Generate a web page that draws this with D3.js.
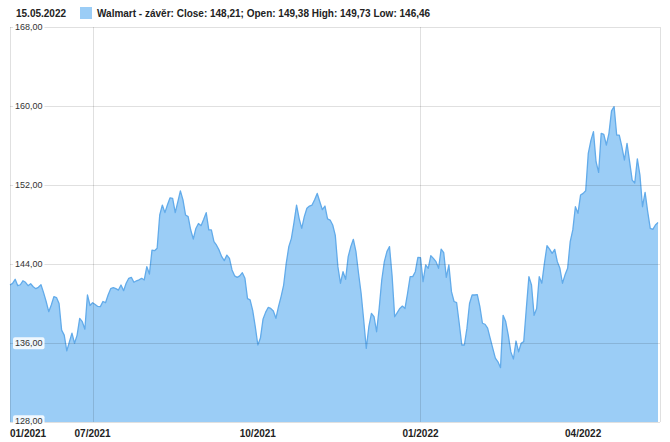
<!DOCTYPE html>
<html>
<head>
<meta charset="utf-8">
<script src="https://cdn.jsdelivr.net/npm/d3@7"></script>
<style>
  html, body { margin: 0; padding: 0; background: #fff; }
  svg { display: block; font-family: "Liberation Sans", Arial, sans-serif; }
</style>
</head>
<body>
<svg id="chart" width="670" height="442"></svg>
<script>
// ---- data (one value per trading day) ----
const closes = [
  141.87, 142.04, 142.45, 141.8, 141.9, 142.3, 142.15, 141.8, 142.0, 141.7,
  141.5, 141.64, 141.9, 141.1, 140.2, 139.17, 139.85, 140.7, 140.6, 140.0,
  137.3, 136.8, 135.2, 136.1, 137.0, 135.97, 136.8, 138.5, 138.16, 137.4,
  140.86, 139.8, 140.08, 139.9, 139.7, 139.68, 140.2, 140.08, 140.86, 141.5,
  141.6, 141.5, 141.36, 141.87, 141.3, 142.05, 142.55, 142.65, 142.15, 142.3,
  142.4, 142.55, 142.38, 143.73, 142.98, 145.4, 145.35, 145.6, 148.96, 149.97,
  149.2, 150.0, 150.7, 150.65, 149.2, 150.3, 151.4, 150.5, 148.96, 148.8,
  147.44, 146.53, 147.6, 148.1, 147.88, 148.5, 149.2, 147.45, 147.45, 146.26,
  145.9, 145.4, 144.74, 144.34, 144.9, 144.57, 143.4, 142.8, 142.65, 142.8,
  143.12, 142.55, 140.5, 140.36, 139.3, 137.65, 135.8, 136.5, 138.4, 139.1,
  139.6, 139.5, 139.24, 138.5, 139.68, 140.7, 141.87, 144.07, 145.76, 146.6,
  148.2, 149.97, 148.6, 147.6, 148.8, 149.64, 149.87, 149.97, 150.5, 151.15,
  150.3, 149.5, 149.87, 148.56, 148.45, 147.95, 146.9, 143.73, 142.05, 143.22,
  142.45, 144.74, 145.76, 146.5, 145.25, 143.06, 141.03, 138.33, 135.46, 137.65,
  139.0, 138.66, 137.14, 139.5, 142.38, 144.24, 145.25, 145.76, 142.8, 138.66,
  139.07, 139.5, 139.74, 139.5, 141.03, 142.72, 142.72, 143.22, 144.67, 144.64,
  142.21, 143.9, 143.56, 144.84, 144.57, 144.24, 143.56, 145.5, 145.14, 142.65,
  143.9, 141.2, 140.2, 140.08, 138.0, 135.8, 135.8, 137.5, 140.0, 140.86,
  140.86, 140.9, 139.68, 138.0, 137.9, 137.5, 136.47, 135.46, 134.46, 134.1,
  133.5, 138.8, 138.17, 136.8, 135.1, 134.38, 136.2, 135.1, 135.97, 136.14,
  139.5, 142.72, 141.87, 138.8, 139.5, 142.72, 142.05, 144.07, 145.85, 145.5,
  145.07, 145.48, 144.24, 143.56, 142.05, 142.9, 143.56, 146.26, 147.45, 149.8,
  149.13, 150.98, 151.15, 151.42, 155.2, 156.5, 157.4, 154.36, 153.28, 157.23,
  157.13, 156.05, 157.23, 159.5, 159.93, 157.06, 157.06, 155.88, 154.53, 156.22,
  154.36, 152.5, 152.2, 154.64, 153.0, 149.8, 151.25, 149.3, 147.6, 147.5,
  147.95, 148.21
];

// x tick positions (trading-day index) and their labels
const xTickIndex  = [0, 32, 96, 159, 222];
const xTickLabels = ["01/2021", "07/2021", "10/2021", "01/2022", "04/2022"];
const xGridIndex  = [32, 159];

// y ticks
const yTicks = [128, 136, 144, 152, 160, 168];
const yTickLabels = ["128,00", "136,00", "144,00", "152,00", "160,00", "168,00"];

const headerDate = "15.05.2022";
const legendText = "Walmart - závěr: Close: 148,21; Open: 149,38 High: 149,73 Low: 146,46";

// ---- layout ----
const svg = d3.select("#chart");
const plotL = 10, plotR = 660, plotT = 27, plotB = 422;
const x = d3.scaleLinear().domain([0, closes.length - 1]).range([plotL, 658]);
const y = d3.scaleLinear().domain([128, 168]).range([plotB, plotT]);

const fillColor = "#9bcdf6";
const lineColor = "#62abea";

const area = d3.area()
  .x((d, i) => x(i))
  .y0(y(128))
  .y1(d => y(d));
const line = d3.line()
  .x((d, i) => x(i))
  .y(d => y(d));

svg.append("path")
  .datum(closes)
  .attr("d", area)
  .attr("fill", fillColor);

svg.append("path")
  .datum(closes)
  .attr("d", line)
  .attr("fill", "none")
  .attr("stroke", lineColor)
  .attr("stroke-width", 1.3)
  .attr("stroke-linejoin", "round");

// grid (drawn on top, semi-transparent)
const grid = svg.append("g").attr("stroke", "rgba(0,0,0,0.12)").attr("stroke-width", 1);
yTicks.forEach(v => {
  grid.append("line")
    .attr("x1", plotL).attr("x2", plotR)
    .attr("y1", Math.round(y(v)) + 0.5).attr("y2", Math.round(y(v)) + 0.5);
});
xGridIndex.forEach(i => {
  grid.append("line")
    .attr("x1", Math.round(x(i)) + 0.5).attr("x2", Math.round(x(i)) + 0.5)
    .attr("y1", plotT).attr("y2", plotB);
});
grid.append("line").attr("x1", plotL + 0.5).attr("x2", plotL + 0.5).attr("y1", plotT).attr("y2", plotB);
grid.append("line").attr("x1", plotR + 0.5).attr("x2", plotR + 0.5).attr("y1", plotT).attr("y2", plotB);

// y labels with light boxes
const yl = svg.append("g");
yTicks.forEach((v, k) => {
  let cy = Math.round(y(v));
  if (v === 128) cy -= 1;
  const g = yl.append("g").attr("transform", `translate(13,${cy})`);
  const t = g.append("text")
    .attr("x", 2).attr("y", 0).attr("dy", "0.35em")
    .attr("font-size", 9).attr("fill", "#333")
    .text(yTickLabels[k]);
  const bb = t.node().getBBox();
  g.insert("rect", "text")
    .attr("x", bb.x - 2).attr("y", bb.y - 1)
    .attr("width", bb.width + 4).attr("height", bb.height + 2)
    .attr("rx", 2)
    .attr("fill", "#fff").attr("fill-opacity", 0.85);
});

// x labels
const xl = svg.append("g").attr("font-size", 10).attr("font-weight", "bold").attr("fill", "#222");
xTickIndex.forEach((i, k) => {
  xl.append("text")
    .attr("x", x(i))
    .attr("y", 437)
    .attr("text-anchor", k === 0 ? "start" : "middle")
    .text(xTickLabels[k]);
});

// header
svg.append("text")
  .attr("x", 16).attr("y", 17)
  .attr("font-size", 10).attr("font-weight", "bold").attr("fill", "#222")
  .text(headerDate);
svg.append("rect")
  .attr("x", 80).attr("y", 7).attr("width", 12).attr("height", 12)
  .attr("fill", fillColor);
svg.append("text")
  .attr("x", 97).attr("y", 17)
  .attr("font-size", 10).attr("font-weight", "bold").attr("fill", "#222")
  .text(legendText);
</script>
</body>
</html>
